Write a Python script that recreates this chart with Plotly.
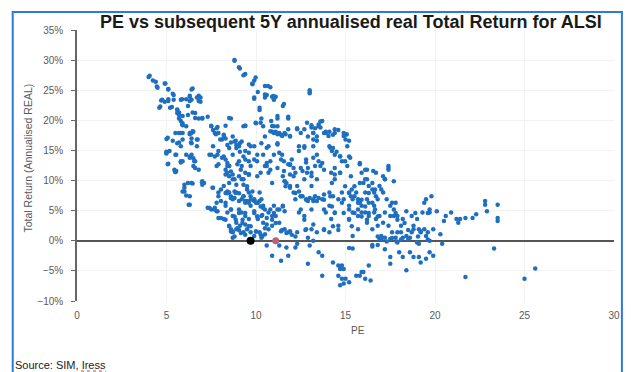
import plotly.graph_objects as go

pts = [
(4.0,27.2),(4.4,26.4),(4.5,25.4),(4.7,23.3),(4.6,22.1),(4.9,26.1),(4.9,23.1),(5.0,14.8),(5.0,16.9),(5.1,12.8),(5.0,14.5),
(5.1,25.1),(5.1,23.2),(5.2,22.1),(5.4,24.2),(5.4,23.4),(5.5,11.4),(5.5,11.6),(5.6,21.7),(5.6,21.2),(5.7,20.9),(5.7,20.3),
(5.5,17.9),(5.8,17.9),(5.6,16.2),(5.5,14.3),(5.8,23.4),(5.9,19.5),(5.9,19.2),(5.9,16.8),(5.8,15.7),(5.9,13.2),(6.0,8.2),(6.0,8.8),
(6.1,23.5),(6.3,23.9),(6.2,22.4),(6.4,25.1),(6.4,23.4),(6.3,17.9),(6.4,17.9),(6.5,18.1),(6.6,21.2),(6.7,23.8),(6.8,23.2),(6.9,23.8),
(6.8,20.3),(7.0,20.3),(6.4,17.0),(6.7,16.8),(6.4,14.3),(6.3,14.0),(6.5,13.7),(6.5,12.4),(6.6,12.1),(6.7,15.7),(6.2,9.6),(6.1,7.5),
(6.3,6.0),(6.4,9.6),(7.0,9.9),(7.1,9.6),(6.1,19.0),(6.2,20.9),(6.4,16.2),(6.6,13.2),
(7.3,20.6),(7.5,19.0),(7.6,18.4),(7.7,17.9),(7.8,18.7),(7.4,14.3),(7.6,15.7),(7.7,14.0),(7.8,12.4),(7.3,5.5),(7.5,5.2),(7.7,5.5),
(7.8,4.9),(7.6,8.8),(7.9,8.0),(7.8,6.3),(7.9,17.9),(8.0,16.8),
(8.1,16.8),(8.2,17.6),(8.3,17.0),(8.4,15.9),(8.5,15.4),(8.6,20.3),(8.7,17.3),(8.8,16.5),(8.9,15.9),(8.9,15.4),(8.2,14.0),(8.3,13.5),
(8.4,12.9),(8.5,12.4),(8.6,11.5),(8.7,11.0),(8.8,10.2),(8.9,9.3),(8.3,11.8),(8.5,10.7),(8.2,9.1),(8.4,8.2),(8.5,8.0),(8.6,7.4),
(8.7,6.9),(8.8,7.1),(8.9,8.0),(8.3,5.8),(8.4,4.7),(8.6,5.2),(8.7,4.1),(8.5,2.5),(8.6,1.9),(8.7,1.4),(8.7,0.5),(8.9,3.0),(8.9,1.9),
(7.9,3.8),(8.2,3.6),(8.8,29.9),(9.1,28.6),(9.3,27.5),
(9.1,16.2),(9.2,16.5),(9.3,19.0),(9.4,19.1),(9.1,14.8),(9.3,14.0),(9.4,13.5),(9.2,12.4),(9.4,11.3),(9.6,11.0),(9.2,10.2),(9.3,9.3),
(9.5,8.5),(9.6,8.0),(9.7,7.4),(9.2,6.9),(9.4,6.3),(9.5,6.6),(9.7,5.8),(9.9,6.9),(10.0,6.3),(9.2,4.7),(9.4,4.1),(9.6,3.6),(9.1,2.5),
(9.3,1.4),(9.5,1.9),(9.7,1.4),(9.9,0.8),(9.8,26.1),(9.9,26.6),(9.9,23.6),(9.9,15.7),(9.7,15.7),(10.0,19.5),(9.6,14.6),(9.7,12.4),(9.9,13.5),
(10.1,24.7),(10.2,21.7),(10.3,20.3),(10.4,19.0),(10.5,17.3),(10.3,16.2),(10.4,14.3),(10.5,12.4),(10.6,12.9),(10.7,11.3),(10.8,11.8),
(10.2,8.0),(10.3,6.9),(10.1,6.3),(10.4,5.8),(10.5,5.2),(10.7,4.7),(10.9,4.1),(10.3,4.1),(10.1,3.6),(10.4,3.0),(10.6,2.7),(10.7,1.9),
(10.9,2.5),(10.2,1.4),(10.3,0.5),(10.5,1.1),(10.6,24.2),(10.8,25.5),(10.9,23.9),(11.0,19.0),(10.9,18.1),(10.7,15.7),(10.9,9.6),(11.0,5.8),
(10.9,-2.5),(10.6,-0.8),
(11.1,23.9),(11.0,23.4),(11.5,22.4),(11.2,20.3),(11.2,19.0),(11.1,18.1),(11.3,17.9),(11.4,17.6),(11.6,17.9),(11.8,20.3),(11.9,17.3),
(11.2,16.2),(11.3,14.6),(11.4,13.5),(11.5,10.7),(11.6,9.9),(11.7,9.6),(11.9,9.1),(11.2,5.2),(11.1,4.1),(11.3,3.0),(11.4,1.6),(11.6,1.9),
(11.8,1.4),(11.9,1.6),(11.3,-0.8),(11.4,-3.3),(11.8,-2.5),(11.7,-1.1),(11.5,5.8),(11.9,12.6),(12.0,13.5),
(12.1,12.1),(12.2,11.3),(12.3,9.1),(12.4,8.2),(12.5,7.4),(12.6,7.4),(12.8,6.9),(12.9,6.6),(12.3,18.7),(12.5,17.9),(12.4,15.7),(12.7,15.7),
(12.9,17.3),(12.8,13.5),(12.9,12.1),(12.2,6.9),(12.4,4.7),(12.7,4.1),(12.8,1.9),(12.9,0.5),(12.3,-0.5),(12.2,-1.1),(13.0,-0.8),(12.9,-3.8),
(12.3,1.4),(12.1,8.0),
(13.0,24.7),(13.0,24.5),(13.1,19.2),(13.2,17.9),(13.3,18.7),(13.4,17.3),(13.6,19.8),(13.5,19.0),(13.8,17.9),(13.9,18.1),(13.2,15.7),
(13.4,14.3),(13.3,12.4),(13.7,12.9),(13.1,11.3),(13.4,10.2),(13.1,9.1),(13.3,7.4),(13.2,6.9),(13.4,6.6),(13.7,6.9),(13.8,7.7),(13.1,1.9),
(13.4,1.4),(13.2,0.0),(13.5,-1.9),(13.7,-2.5),(13.7,-5.8),(13.8,1.9),(13.9,4.7),
(14.1,18.1),(14.3,17.6),(14.4,17.9),(14.6,18.4),(14.1,15.7),(14.3,15.4),(14.5,14.8),(14.7,14.0),(14.8,13.2),(14.9,17.9),(14.2,11.3),
(14.4,10.2),(14.7,11.3),(14.1,8.0),(14.3,7.4),(14.6,6.9),(14.8,8.0),(14.9,6.9),(14.1,5.8),(14.4,4.7),(14.2,3.6),(14.6,2.5),(14.1,1.4),
(14.3,-3.6),(14.6,-4.1),(14.7,-4.7),(14.8,-4.1),(14.9,-4.7),(14.8,-6.3),(14.7,-7.4),(14.9,-7.1),(14.6,-5.8),(15.0,-6.3),
(15.0,17.6),(15.0,16.8),(15.1,15.7),(15.2,14.0),(15.1,12.4),(15.3,10.7),(15.2,8.0),(15.3,7.4),(15.4,6.9),(15.6,8.0),(15.7,6.9),(15.8,6.3),
(15.9,5.8),(15.2,5.8),(15.4,4.7),(15.7,4.1),(15.9,4.7),(15.2,3.6),(15.4,0.8),(15.4,-1.3),(15.2,-6.9),(15.6,-5.8),(15.8,12.9),(15.9,11.3),
(16.0,9.6),(15.8,-5.8),(15.7,1.9),(15.9,-5.2),
(16.1,11.8),(16.2,10.2),(16.3,9.1),(16.5,8.5),(16.6,8.0),(16.7,11.3),(16.1,8.0),(16.2,6.9),(16.3,6.3),(16.6,5.8),(16.8,6.9),(16.9,9.1),
(16.1,4.7),(16.3,4.1),(16.6,4.7),(16.7,3.6),(16.9,4.1),(16.2,3.0),(16.5,1.9),(16.8,2.5),(16.0,-5.2),(16.1,-6.3),(16.3,-4.1),(16.4,-6.6),
(16.5,-0.7),(16.8,-0.7),(16.9,0.3),
(17.1,10.7),(17.2,10.2),(17.4,12.4),(17.4,11.8),(17.7,9.9),(17.1,8.0),(17.3,6.9),(17.5,5.8),(17.7,5.2),(17.8,6.3),(17.2,4.7),(17.5,4.1),
(17.7,4.1),(17.9,4.1),(17.1,3.0),(17.4,2.5),(17.6,1.4),(17.0,0.8),(17.2,0.5),(17.5,0.3),(17.8,0.5),(17.2,-1.4),(17.5,-2.7),(17.5,-3.8),
(17.9,-0.3),(17.9,1.4),
(18.1,1.4),(18.2,0.5),(18.4,0.8),(18.5,0.3),(18.6,0.5),(18.7,1.4),(18.8,2.5),(19.0,3.6),(18.4,4.9),(18.1,2.5),(18.2,3.6),(18.0,-1.9),
(18.2,-2.7),(18.4,-4.9),(18.6,-1.9),(18.8,-2.7),(19.0,-0.3),(18.8,1.9),(18.7,4.1),
(19.1,1.9),(19.2,1.4),(19.4,1.9),(19.5,0.8),(19.6,1.4),(19.3,4.7),(19.5,6.9),(19.7,5.2),(19.8,7.4),(19.7,4.7),(19.9,1.9),(19.1,-2.7),
(19.2,-3.6),(19.5,-3.0),(19.7,-1.9),(19.9,-2.5),(19.1,-0.5),(19.7,0.0),
(20.1,4.9),(20.3,1.1),(20.4,-0.5),(20.5,3.3),(20.6,4.1),(20.9,4.7),
(21.2,3.6),(21.3,3.0),(21.4,3.6),(21.7,-6.0),(21.7,3.8),(22.1,3.8),(22.3,4.4),(22.8,6.6),(22.8,6.0),(22.9,4.9),(23.3,-1.3),(23.5,3.3),
(23.5,3.8),(23.5,6.0),(25.0,-6.3),(25.6,-4.6),
# denser clusters, read from close-ups
(8.5,12.4),(8.3,11.0),(8.96,12.7),(9.15,11.8),(9.6,11.0),(10.06,13.2),(10.26,11.3),(10.6,12.4),(11.2,12.1),(11.8,12.7),(11.9,11.0),
(12.1,10.7),(12.6,11.6),(12.8,13.0),(13.6,12.4),(13.1,10.7),(12.7,10.2),(11.6,9.9),(11.65,9.05),(11.9,8.8),(12.2,7.95),(12.5,7.4),
(12.8,6.8),(13.0,7.1),(13.2,6.6),(13.5,7.1),(13.8,6.8),(14.15,7.4),(12.5,5.2),(13.1,5.2),(13.8,5.2),(12.7,3.5),(13.2,2.7),(13.8,1.8),
(12.76,1.8),(8.4,7.9),(8.6,7.1),(8.8,8.2),(9.05,7.9),(9.3,7.4),(9.4,6.6),(9.7,6.8),(9.9,6.6),(10.07,6.3),(10.26,5.7),(10.4,5.45),
(10.8,5.2),(11.0,4.6),(11.3,5.2),(11.5,5.7),(11.6,4.9),(9.9,4.6),(10.07,4.05),(10.35,4.3),(10.6,3.8),(10.9,3.5),(11.1,2.95),(8.6,5.2),
(8.8,4.05),(9.05,4.6),(9.25,3.5),(9.4,2.7),(9.7,2.4),(8.96,2.1),(9.15,1.3),(8.7,1.55),(10.0,1.55),(10.26,1.0),(10.5,2.1),(11.46,1.8),
(11.7,1.3),(12.0,1.0),(12.2,0.7),(9.3,10.2),(9.5,9.05),(9.8,8.2),(8.3,6.3),(8.5,9.6),
(14.24,9.6),(14.4,11.0),(14.7,11.3),(14.98,9.05),(15.2,7.95),(15.35,8.5),(15.5,7.4),(15.7,6.3),(15.9,6.8),(16.1,5.7),(16.3,7.95),
(16.5,6.3),(16.65,5.2),(16.8,4.05),(17.0,8.5),(17.2,10.2),(17.6,6.3),(17.8,4.6),(17.9,3.5),(18.3,2.95),(18.5,1.8),(18.9,4.6),(19.2,1.55),
(19.6,4.6),(19.4,6.3),(14.8,6.3),(14.9,4.6),(15.2,3.5),(15.35,2.4),(15.5,4.6),(15.9,4.05),(16.2,3.5),(14.24,5.7),(14.4,4.6),(14.3,2.4),
(14.6,1.8),(16.8,0.7),(17.0,0.2),(17.3,-0.1),(17.6,0.45),(17.85,-0.1),(18.1,0.2),(19.05,0.7),(19.6,0.2),(16.5,-0.95),(15.2,-1.2),
(15.5,9.05),(15.8,9.6),(16.1,10.2),(16.5,9.6),(16.65,8.5),(16.7,7.4),(15.2,5.2),(15.7,5.2),(16.3,4.6),
(4.06,27.4),(4.24,26.6),(4.46,25.6),(4.94,26.1),(5.1,25.2),(5.35,24.4),(4.76,23.4),(4.65,22.3),(5.1,23.5),(5.3,22.2),(5.87,23.5),
(6.3,24.1),(6.46,25.3),(6.8,24.1),(6.9,23.1),(6.3,23.2),(5.6,21.8),(5.7,21.3),(5.9,20.7),(5.8,19.9),(5.87,19.4),(6.46,21.3),(6.6,20.4),
(7.0,20.4),(5.7,17.9),(5.9,17.9),(6.3,17.7),(6.46,18.2),(5.07,17.1),(5.35,16.6),(5.7,16.3),(6.37,16.3),(6.74,16.8),(4.98,14.6),
(5.17,14.9),(5.54,14.3),(6.1,14.3),(6.3,13.8),(6.55,13.2),(5.07,12.7),(5.8,13.0),(7.5,19.1),(7.85,18.9),(7.76,17.7),(8.3,19.1),
(8.5,20.4),(8.2,17.4),(8.6,16.3),(8.87,16.6),(9.05,15.7),(8.7,14.3),(7.9,14.9),(7.85,14.3),(7.5,14.3),(9.4,19.1),(9.9,23.8),(9.8,26.0),
(9.98,27.1),(8.8,30.0),(9.05,28.8),(9.4,27.7),(10.2,22.1),(10.5,25.7),(10.5,23.8),(10.26,19.6),(9.98,19.6),(9.6,16.0),(9.4,14.9),
(9.05,13.2),(9.6,13.2),(10.07,14.3),(5.54,11.6),(5.44,11.8),(5.8,13.2),(6.8,11.8),(8.1,13.8),(7.9,12.7),(8.4,12.4),
(10.67,25.7),(10.5,24.3),(10.96,24.05),(11.0,23.5),(11.56,22.7),(13.0,25.0),(11.2,20.7),(11.8,20.6),(10.85,19.9),(10.9,19.05),
(10.8,18.2),(11.0,17.9),(11.2,17.7),(11.46,17.4),(11.65,17.7),(11.8,18.5),(11.9,17.4),(12.3,18.5),(12.7,18.5),(12.85,19.6),(13.1,18.8),
(13.2,17.9),(13.5,19.3),(13.7,19.9),(13.6,18.8),(13.9,17.9),(14.05,17.4),(14.4,18.5),(14.9,17.4),(15.07,17.7),(15.2,16.6),(13.4,16.6),
(13.2,16.8),(12.7,15.45),(12.4,14.9),(11.2,16.0),(10.6,15.45),(11.46,14.3),(11.0,14.3),(10.8,13.2),(11.56,13.2),(11.9,12.7),(13.2,13.8),
(13.5,13.2),(14.15,15.45),(14.24,14.9),(14.4,14.3),(14.7,14.05),(15.26,13.8),(14.98,13.2),(15.8,12.7),(16.2,11.8),(16.55,11.6),
(17.4,12.1),(12.5,12.1),(13.8,11.8),(14.4,12.1),(11.56,11.6),(12.85,11.3),
(5.5,11.4),(6.0,9.3),(6.46,9.5),(6.98,9.7),(7.0,9.3),(5.9,8.2),(6.3,7.4),(6.24,6.0),(7.57,8.8),(8.04,8.5),(7.9,7.4),(8.04,6.6),
(7.4,5.45),(7.67,5.2),(7.85,4.9),(8.04,3.8),(8.3,3.5),(8.5,2.4),(8.6,1.55),(8.8,0.7),(8.4,11.3),(8.7,10.2),(9.05,10.7),(9.6,11.0),
(10.07,10.7),(8.3,7.95),(8.6,7.1),(8.87,7.95),(9.05,6.6),(9.3,7.4),(9.6,6.3),(9.9,6.8),(10.2,6.6),(9.05,5.2),(9.4,4.6),(9.9,4.9),
(10.07,4.05),(8.87,3.5),(9.24,2.95),(9.6,2.4),(9.05,1.8),(9.4,1.0),(10.0,1.55),(10.35,0.7),
]
pe = [p[0] for p in pts]
ret = [p[1] / 100 for p in pts]

current_pe = [9.7]
current_ret = [0.0]
alt_pe = [11.1]
alt_ret = [0.0]

x_ticks = [0, 5, 10, 15, 20, 25, 30]
y_ticks = [-0.10, -0.05, 0, 0.05, 0.10, 0.15, 0.20, 0.25, 0.30, 0.35]

# page has an 8px body margin: figure is drawn from page (8,8)
OFF = 8
W, H = 624, 364
L, R, T, B = 69, 12, 22, 71
pw, ph = W - L - R, H - T - B
def px(xp): return (xp - OFF - L) / pw
def py(yp): return (H - B - (yp - OFF)) / ph

fig = go.Figure()
fig.add_trace(go.Scatter(x=pe, y=ret, mode="markers",
                         marker=dict(color="#1f6fc0", size=4.5), hoverinfo="skip", showlegend=False))
fig.add_trace(go.Scatter(x=alt_pe, y=alt_ret, mode="markers",
                         marker=dict(color="#b5647a", size=7), showlegend=False))
fig.add_trace(go.Scatter(x=current_pe, y=current_ret, mode="markers",
                         marker=dict(color="#000000", size=8), showlegend=False))

fig.update_layout(
    width=W, height=H, margin=dict(l=L, r=R, t=T, b=B),
    paper_bgcolor="white", plot_bgcolor="white",
    font=dict(family="Liberation Sans, Arial", color="#595959", size=10),
    xaxis=dict(range=[0, 30], tickvals=x_ticks, showgrid=True, gridcolor="#f2f2f2",
               zeroline=False, showline=False, ticks="outside", ticklen=5, tickcolor="rgba(0,0,0,0)",
               tickfont=dict(size=10, color="#595959")),
    yaxis=dict(range=[-0.10, 0.35], tickvals=y_ticks, tickformat=".0%", showgrid=True,
               gridcolor="#f2f2f2", zeroline=True, zerolinecolor="#555555", zerolinewidth=1.5,
               showline=True, linecolor="#666666", linewidth=1.5, ticks="outside", ticklen=4,
               tickcolor="#666666", ticklabelstandoff=6, tickfont=dict(size=10, color="#595959")),
    shapes=[dict(type="rect", xref="paper", yref="paper", x0=px(12), x1=px(628), y0=py(400), y1=py(12),
                 line=dict(color="#2e7bd6", width=2), fillcolor="rgba(0,0,0,0)", layer="above"),
            dict(type="line", xref="paper", yref="paper", x0=px(81), x1=px(106), y0=py(371), y1=py(371),
                 line=dict(color="#d04040", width=1, dash="dot"))],
    annotations=[
        dict(text="<b>PE vs subsequent 5Y annualised real Total Return for ALSI</b>", xref="paper", yref="paper",
             x=px(354), y=py(22), showarrow=False, font=dict(size=18, color="#1a1a1a"), xanchor="center", yanchor="middle"),
        dict(text="Total Return (Annualised REAL)", xref="paper", yref="paper", x=px(27), y=py(158),
             textangle=-90, showarrow=False, font=dict(size=10.5, color="#595959"), xanchor="center", yanchor="middle"),
        dict(text="PE", xref="paper", yref="paper", x=px(361), y=py(330), showarrow=False,
             font=dict(size=10, color="#595959"), xanchor="center", yanchor="middle"),
        dict(text="Source: SIM, Iress", xref="paper", yref="paper", x=px(12), y=py(365), showarrow=False,
             font=dict(size=11, color="#1a1a1a"), xanchor="left", yanchor="middle"),
    ],
)
fig.write_html("out.html")
